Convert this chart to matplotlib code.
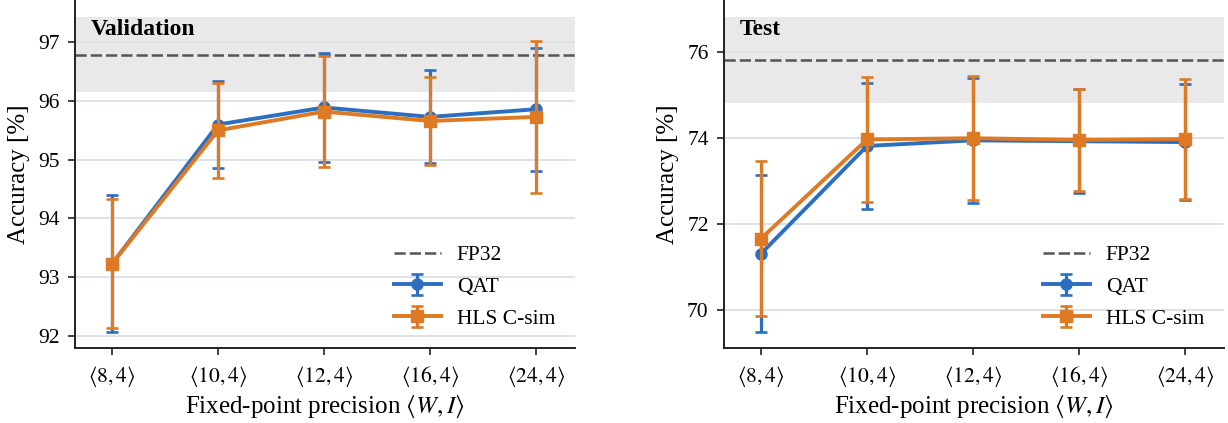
import matplotlib
matplotlib.use("Agg")
import matplotlib.pyplot as plt
import numpy as np

plt.rcParams['font.family'] = ['Liberation Serif', 'DejaVu Serif']
plt.rcParams['mathtext.fontset'] = 'stix'

# ---- data ----
precisions = [r'$\langle 8, 4\rangle$', r'$\langle 10, 4\rangle$', r'$\langle 12, 4\rangle$',
              r'$\langle 16, 4\rangle$', r'$\langle 24, 4\rangle$']

val_qat = [93.23, 95.60, 95.89, 95.73, 95.86]
val_qat_err = [1.17, 0.74, 0.92, 0.79, 1.05]
val_hls = [93.23, 95.50, 95.82, 95.66, 95.73]
val_hls_err = [1.10, 0.81, 0.94, 0.75, 1.30]
val_fp32 = 96.79
val_fp32_std = 0.64

test_qat = [71.31, 73.81, 73.94, 73.92, 73.90]
test_qat_err = [1.83, 1.46, 1.45, 1.21, 1.34]
test_hls = [71.66, 73.96, 73.99, 73.95, 73.97]
test_hls_err = [1.79, 1.45, 1.44, 1.19, 1.40]
test_fp32 = 75.81
test_fp32_std = 1.00

BLUE = '#2c6fc1'
ORANGE = '#df7a24'

fig = plt.figure(figsize=(12.28, 4.23), dpi=100)
W, H = 1228, 423
bottom = (H - 348.3) / H
height = 348.3 / H
ax1 = fig.add_axes([75 / W, bottom, 500 / W, height])
ax2 = fig.add_axes([724 / W, bottom, 500 / W, height])


def draw(ax, qat, qerr, hls, herr, fp, fpstd, ylim, yticks, title):
    x = np.arange(len(precisions))
    ax.set_axisbelow(True)
    ax.axhspan(fp - fpstd, fp + fpstd, color='#e9e9e9', zorder=0.2, lw=0)
    ax.yaxis.grid(True, color='#dde1e8', lw=1.4, zorder=0.5)
    ax.axhline(fp, color='#555555', lw=1.8, dashes=(4.5, 1.6), label='FP32', zorder=1)
    ax.errorbar(x, qat, yerr=qerr, color=BLUE, marker='o', ms=8, lw=2.8,
                elinewidth=2.3, capsize=4, capthick=1.9, label='QAT', zorder=2)
    ax.errorbar(x, hls, yerr=herr, color=ORANGE, marker='s', ms=8.3, lw=2.8,
                elinewidth=2.3, capsize=4, capthick=1.9, label='HLS C-sim', zorder=3)
    ax.set_xlim(-0.35, 4.37)
    ax.set_ylim(*ylim)
    ax.set_yticks(yticks)
    ax.set_xticks(x)
    ax.set_xticklabels(precisions)
    ax.tick_params(axis='both', labelsize=15.5, width=1.2, length=5, color='#222222')
    ax.tick_params(axis='y', pad=6)
    ax.tick_params(axis='x', pad=6)
    for s in ['top', 'right']:
        ax.spines[s].set_visible(False)
    for s in ['left', 'bottom']:
        ax.spines[s].set_linewidth(1.4)
        ax.spines[s].set_color('#222222')
    ax.set_xlabel(r'Fixed-point precision $\langle W, I\rangle$', fontsize=18, labelpad=4)
    ax.set_ylabel('Accuracy [%]', fontsize=18, labelpad=6)
    ax.text(0.031, 0.90, title, transform=ax.transAxes, fontsize=17, fontweight='bold',
            va='baseline', ha='left')
    ax.legend(loc='lower right', frameon=False, fontsize=15.5, handlelength=2.15,
              bbox_to_anchor=(0.999, 0.0), labelspacing=0.55, handletextpad=0.75)


draw(ax1, val_qat, val_qat_err, val_hls, val_hls_err, val_fp32, val_fp32_std,
     (91.79, 97.72), [92, 93, 94, 95, 96, 97], 'Validation')
draw(ax2, test_qat, test_qat_err, test_hls, test_hls_err, test_fp32, test_fp32_std,
     (69.11, 77.20), [70, 72, 74, 76], 'Test')

fig.savefig('out.png', dpi=100)
